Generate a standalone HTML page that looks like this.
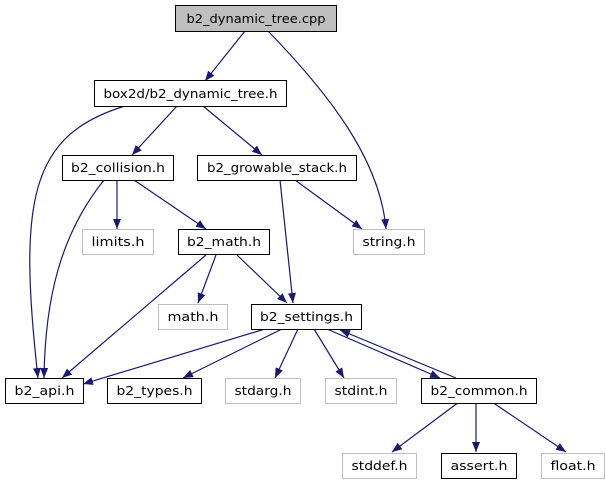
<!DOCTYPE html>
<html><head><meta charset="utf-8"><style>
html,body{margin:0;padding:0;background:#fff;width:606px;height:485px;overflow:hidden}
svg text{font-family:"DejaVu Sans","Liberation Sans",sans-serif;font-size:12px;fill:#000}
</style></head><body>
<svg width="606" height="485" viewBox="0 0 606 485" xmlns="http://www.w3.org/2000/svg">
<defs><marker id="a" markerWidth="10" markerHeight="8" refX="10" refY="4" orient="auto" markerUnits="userSpaceOnUse"><path d="M0,0 L10,4 L0,8 z" fill="#191970"/></marker></defs>
<g fill="none" stroke="#191970" stroke-width="1.2" marker-end="url(#a)">
<path d="M245,31 L205,81"/>
<path d="M268,31 C330,95 380,160 386,229"/>
<path d="M125,106 C30,135 18,200 38,378"/>
<path d="M177,106 L132,155"/>
<path d="M203,106 L262,155"/>
<path d="M104,180 C60,235 45,300 44,378"/>
<path d="M117,180 L117,229"/>
<path d="M134,180 L206,229"/>
<path d="M280,180 L293,303"/>
<path d="M295,180 L362,229"/>
<path d="M216,255 L198,303"/>
<path d="M206,255 L62,378"/>
<path d="M237,255 L287,303"/>
<path d="M265,329 L83,384"/>
<path d="M282,329 L183,378"/>
<path d="M298,329 L275,378"/>
<path d="M314,329 L344,378"/>
<path d="M327,329 L440,378"/>
<path d="M456,378 L340,330"/>
<path d="M459,402 L392,452"/>
<path d="M476,402 L476,452"/>
<path d="M492,402 L566,452"/>
</g>
<g stroke-width="1">
<rect x="175.5" y="5.5" width="161" height="26" fill="#bfbfbf" stroke="#000"/>
<rect x="94.5" y="80.5" width="192" height="26" fill="#fff" stroke="#000"/>
<rect x="62.5" y="155.5" width="111" height="25" fill="#fff" stroke="#000"/>
<rect x="197.5" y="155.5" width="159" height="25" fill="#fff" stroke="#000"/>
<rect x="82.5" y="229.5" width="71" height="25" fill="#fff" stroke="#bfbfbf"/>
<rect x="178.5" y="229.5" width="91" height="25" fill="#fff" stroke="#000"/>
<rect x="353.5" y="229.5" width="71" height="25" fill="#fff" stroke="#bfbfbf"/>
<rect x="158.5" y="304.5" width="69" height="25" fill="#fff" stroke="#bfbfbf"/>
<rect x="251.5" y="304.5" width="110" height="25" fill="#fff" stroke="#000"/>
<rect x="5.5" y="378.5" width="78" height="25" fill="#fff" stroke="#000"/>
<rect x="107.5" y="378.5" width="94" height="25" fill="#fff" stroke="#000"/>
<rect x="225.5" y="378.5" width="75" height="25" fill="#fff" stroke="#bfbfbf"/>
<rect x="325.5" y="378.5" width="71" height="25" fill="#fff" stroke="#bfbfbf"/>
<rect x="421.5" y="378.5" width="115" height="25" fill="#fff" stroke="#000"/>
<rect x="342.5" y="453.5" width="74" height="25" fill="#fff" stroke="#bfbfbf"/>
<rect x="441.5" y="453.5" width="75" height="25" fill="#fff" stroke="#000"/>
<rect x="541.5" y="453.5" width="63" height="25" fill="#fff" stroke="#bfbfbf"/>
</g>
<g text-anchor="middle">
<text x="256" y="23" textLength="139" lengthAdjust="spacingAndGlyphs">b2_dynamic_tree.cpp</text>
<text x="190.5" y="98" textLength="174" lengthAdjust="spacingAndGlyphs">box2d/b2_dynamic_tree.h</text>
<text x="118" y="172" textLength="94" lengthAdjust="spacingAndGlyphs">b2_collision.h</text>
<text x="277" y="172" textLength="140" lengthAdjust="spacingAndGlyphs">b2_growable_stack.h</text>
<text x="118" y="246" textLength="53" lengthAdjust="spacingAndGlyphs">limits.h</text>
<text x="224" y="246" textLength="74" lengthAdjust="spacingAndGlyphs">b2_math.h</text>
<text x="389" y="246" textLength="53" lengthAdjust="spacingAndGlyphs">string.h</text>
<text x="193" y="321" textLength="51" lengthAdjust="spacingAndGlyphs">math.h</text>
<text x="306.5" y="321" textLength="93" lengthAdjust="spacingAndGlyphs">b2_settings.h</text>
<text x="44.5" y="395" textLength="60" lengthAdjust="spacingAndGlyphs">b2_api.h</text>
<text x="154.5" y="395" textLength="76" lengthAdjust="spacingAndGlyphs">b2_types.h</text>
<text x="263" y="395" textLength="57" lengthAdjust="spacingAndGlyphs">stdarg.h</text>
<text x="361" y="395" textLength="53" lengthAdjust="spacingAndGlyphs">stdint.h</text>
<text x="479" y="395" textLength="97" lengthAdjust="spacingAndGlyphs">b2_common.h</text>
<text x="379.5" y="470" textLength="56" lengthAdjust="spacingAndGlyphs">stddef.h</text>
<text x="479" y="470" textLength="57" lengthAdjust="spacingAndGlyphs">assert.h</text>
<text x="573" y="470" textLength="45" lengthAdjust="spacingAndGlyphs">float.h</text>
</g>
</svg>
</body></html>
